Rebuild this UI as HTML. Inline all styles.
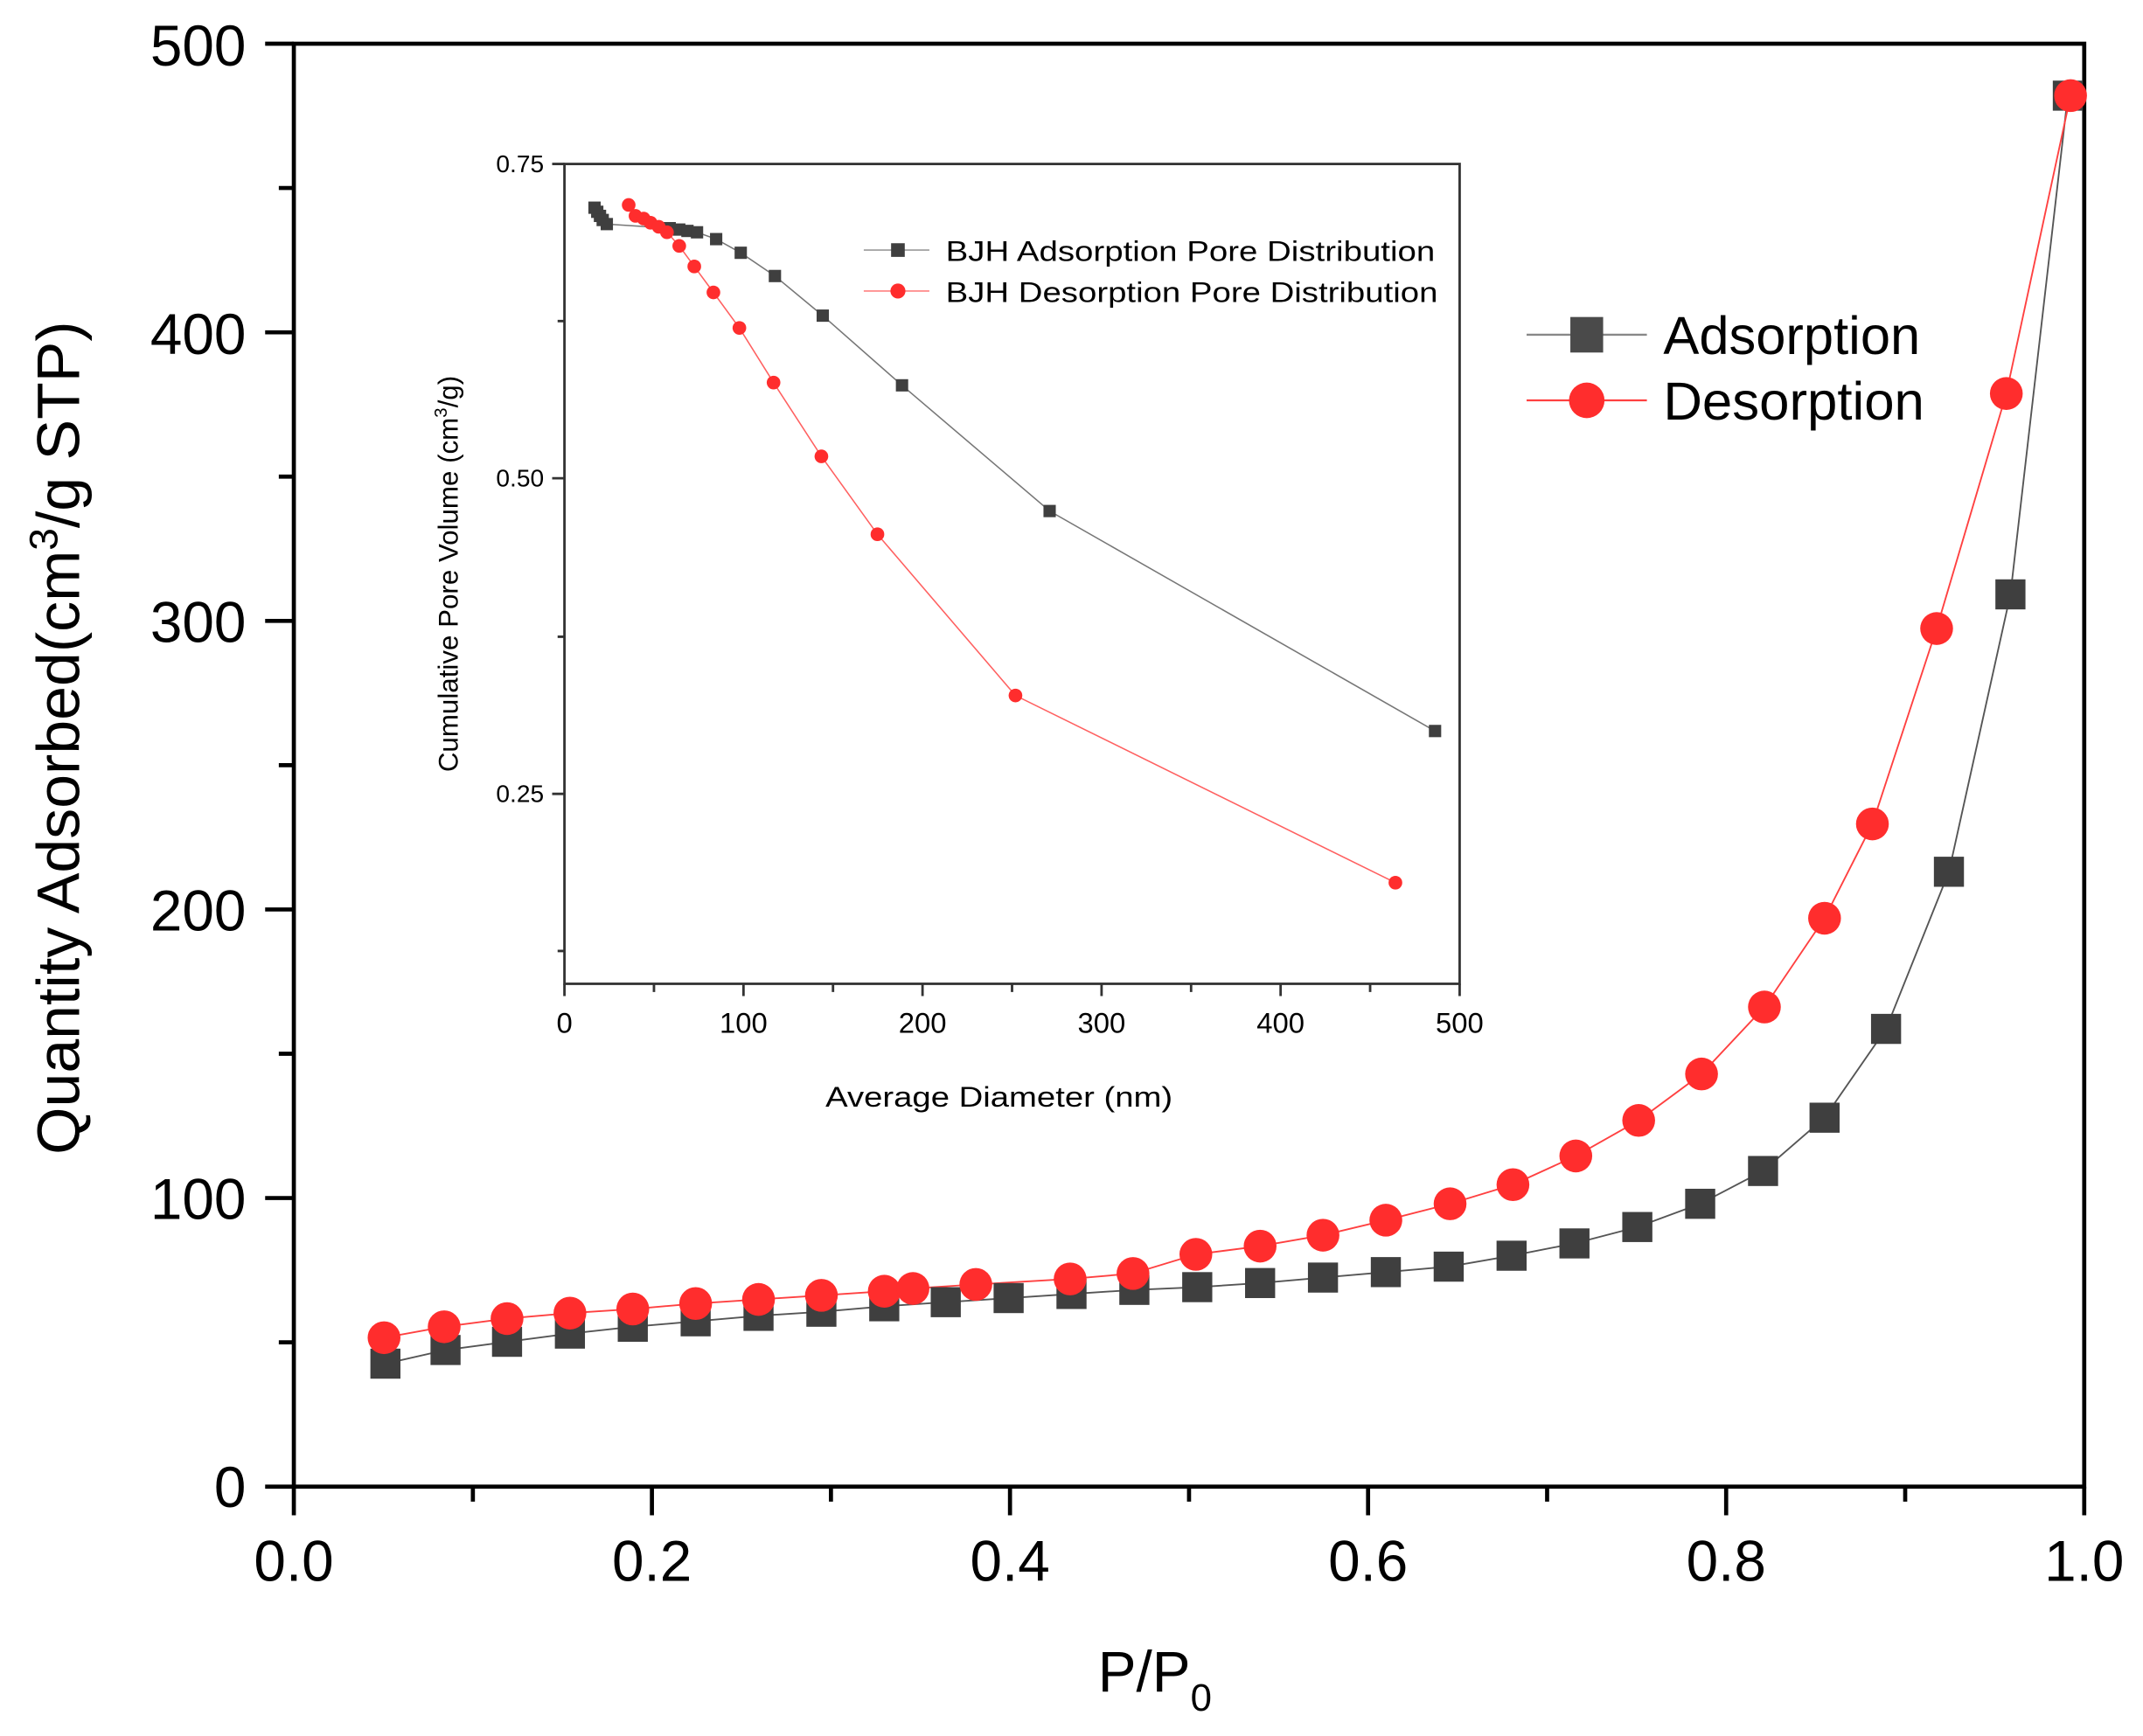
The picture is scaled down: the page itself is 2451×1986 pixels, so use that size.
<!DOCTYPE html>
<html><head><meta charset="utf-8"><style>
html,body{margin:0;padding:0;background:#fff;}
svg{display:block;}
text{font-family:"Liberation Sans",Arial,sans-serif;fill:#000;}
</style></head><body>
<svg width="2451" height="1986" viewBox="0 0 1568 1270.5" preserveAspectRatio="none" xmlns="http://www.w3.org/2000/svg">
<rect x="0" y="0" width="1568" height="1270.5" fill="#fff"/>
<g stroke="#000" stroke-width="3" fill="none">
<rect x="215" y="32" width="1310" height="1056"/>
<path d="M215 1088v21 M477 1088v21 M739 1088v21 M1001 1088v21 M1263 1088v21 M1525 1088v21"/>
<path d="M346 1088v11 M608 1088v11 M870 1088v11 M1132 1088v11 M1394 1088v11"/>
<path d="M215 1088h-21 M215 876.8h-21 M215 665.6h-21 M215 454.4h-21 M215 243.2h-21 M215 32h-21"/>
<path d="M215 982.4h-11 M215 771.2h-11 M215 560h-11 M215 348.8h-11 M215 137.6h-11"/>
</g>
<g font-size="42" text-anchor="end">
<text x="180" y="1103">0</text>
<text x="180" y="892">100</text>
<text x="180" y="681">200</text>
<text x="180" y="470">300</text>
<text x="180" y="259">400</text>
<text x="180" y="48">500</text>
</g>
<g font-size="42" text-anchor="middle">
<text x="215" y="1157">0.0</text>
<text x="477" y="1157">0.2</text>
<text x="739" y="1157">0.4</text>
<text x="1001" y="1157">0.6</text>
<text x="1263" y="1157">0.8</text>
<text x="1525" y="1157">1.0</text>
<text x="845" y="1238">P/P<tspan font-size="28" dy="14">0</tspan></text>
</g>
<text font-size="44" text-anchor="middle" textLength="610" lengthAdjust="spacingAndGlyphs" transform="translate(58,540) rotate(-90)">Quantity Adsorbed(cm<tspan font-size="29" dy="-16">3</tspan><tspan dy="16">/g STP)</tspan></text>

<polyline fill="none" stroke="#555" stroke-width="1.2" points="282,998 326,988 371,982 417,976 463,971 509,967 555,963 601,960 647,956 692,953 738,950 784,947 830,944 876,942 922,939 968,935 1014,931 1060,927 1106,919 1152,910 1198,898 1244,881 1290,857 1335,818 1380,753 1426,638 1471,435 1513,70"/>
<polyline fill="none" stroke="#ff4040" stroke-width="1.2" points="281,979 325,971 371,965 417,961 463,958 509,954 555,951 601,948 647,945 668,943 714,940 783,936 829,932 875,918 922,912 968,904 1014,893 1061,881 1107,867 1153,846 1199,820 1245,786 1291,737 1335,672 1370,603 1417,460 1468,288 1515,70"/>
<g fill="#3f3f3f">
<rect x="271" y="987" width="22" height="22"/><rect x="315" y="977" width="22" height="22"/><rect x="360" y="971" width="22" height="22"/><rect x="406" y="965" width="22" height="22"/><rect x="452" y="960" width="22" height="22"/><rect x="498" y="956" width="22" height="22"/><rect x="544" y="952" width="22" height="22"/><rect x="590" y="949" width="22" height="22"/><rect x="636" y="945" width="22" height="22"/><rect x="681" y="942" width="22" height="22"/><rect x="727" y="939" width="22" height="22"/><rect x="773" y="936" width="22" height="22"/><rect x="819" y="933" width="22" height="22"/><rect x="865" y="931" width="22" height="22"/><rect x="911" y="928" width="22" height="22"/><rect x="957" y="924" width="22" height="22"/><rect x="1003" y="920" width="22" height="22"/><rect x="1049" y="916" width="22" height="22"/><rect x="1095" y="908" width="22" height="22"/><rect x="1141" y="899" width="22" height="22"/><rect x="1187" y="887" width="22" height="22"/><rect x="1233" y="870" width="22" height="22"/><rect x="1279" y="846" width="22" height="22"/><rect x="1324" y="807" width="22" height="22"/><rect x="1369" y="742" width="22" height="22"/><rect x="1415" y="627" width="22" height="22"/><rect x="1460" y="424" width="22" height="22"/><rect x="1502" y="59" width="22" height="22"/>
</g>
<g fill="#ff2d2d">
<circle cx="281" cy="979" r="12"/><circle cx="325" cy="971" r="12"/><circle cx="371" cy="965" r="12"/><circle cx="417" cy="961" r="12"/><circle cx="463" cy="958" r="12"/><circle cx="509" cy="954" r="12"/><circle cx="555" cy="951" r="12"/><circle cx="601" cy="948" r="12"/><circle cx="647" cy="945" r="12"/><circle cx="668" cy="943" r="12"/><circle cx="714" cy="940" r="12"/><circle cx="783" cy="936" r="12"/><circle cx="829" cy="932" r="12"/><circle cx="875" cy="918" r="12"/><circle cx="922" cy="912" r="12"/><circle cx="968" cy="904" r="12"/><circle cx="1014" cy="893" r="12"/><circle cx="1061" cy="881" r="12"/><circle cx="1107" cy="867" r="12"/><circle cx="1153" cy="846" r="12"/><circle cx="1199" cy="820" r="12"/><circle cx="1245" cy="786" r="12"/><circle cx="1291" cy="737" r="12"/><circle cx="1335" cy="672" r="12"/><circle cx="1370" cy="603" r="12"/><circle cx="1417" cy="460" r="12"/><circle cx="1468" cy="288" r="12"/><circle cx="1515" cy="70" r="12"/>
</g>
<line x1="1117" y1="245" x2="1205" y2="245" stroke="#888" stroke-width="1.5"/>
<rect x="1149" y="232" width="24" height="26" fill="#4a4a4a"/>
<line x1="1117" y1="293" x2="1205" y2="293" stroke="#ff4040" stroke-width="1.5"/>
<circle cx="1161" cy="293" r="13" fill="#ff2d2d"/>
<text x="1217" y="259" font-size="39" textLength="188" lengthAdjust="spacingAndGlyphs">Adsorption</text>
<text x="1217" y="307" font-size="39" textLength="191" lengthAdjust="spacingAndGlyphs">Desorption</text>

<g stroke="#333" stroke-width="1.8" fill="none">
<rect x="413" y="120" width="655" height="600"/>
<path d="M413 720v9 M544 720v9 M675 720v9 M806 720v9 M937 720v9 M1068 720v9"/>
<path d="M478.5 720v6 M609.5 720v6 M740.5 720v6 M871.5 720v6 M1002.5 720v6"/>
<path d="M413 120h-9 M413 350h-9 M413 581h-9 M413 235h-5 M413 466h-5 M413 696h-5"/>
</g>
<g font-size="18" fill="#222" text-anchor="end">
<text x="398" y="126">0.75</text>
<text x="398" y="356">0.50</text>
<text x="398" y="587">0.25</text>
</g>
<g font-size="21" text-anchor="middle">
<text x="413" y="756">0</text><text x="544" y="756">100</text><text x="675" y="756">200</text><text x="806" y="756">300</text><text x="937" y="756">400</text><text x="1068" y="756">500</text>
<text x="731" y="810" textLength="254" lengthAdjust="spacingAndGlyphs">Average Diameter (nm)</text>
</g>
<text font-size="20" text-anchor="middle" textLength="290" lengthAdjust="spacingAndGlyphs" transform="translate(335,420) rotate(-90)">Cumulative Pore Volume (cm<tspan font-size="13" dy="-8">3</tspan><tspan dy="8">/g)</tspan></text>

<polyline fill="none" stroke="#777" stroke-width="1" points="435,152 437,155 439,158 441,161 444,164 490,167 497,168 503,169 510,170 524,175 542,185 567,202 602,231 660,282 768,374 1050,535"/>
<polyline fill="none" stroke="#ff6060" stroke-width="1" points="460,150 465,158 471,160 476,163 482,166 488,170 497,180 508,195 522,214 541,240 566,280 601,334 642,391 743,509 1021,646"/>
<g fill="#3f3f3f">
<rect x="430.5" y="147.5" width="9" height="9"/><rect x="432.5" y="150.5" width="9" height="9"/><rect x="434.5" y="153.5" width="9" height="9"/><rect x="436.5" y="156.5" width="9" height="9"/><rect x="439.5" y="159.5" width="9" height="9"/><rect x="485.5" y="162.5" width="9" height="9"/><rect x="492.5" y="163.5" width="9" height="9"/><rect x="498.5" y="164.5" width="9" height="9"/><rect x="505.5" y="165.5" width="9" height="9"/><rect x="519.5" y="170.5" width="9" height="9"/><rect x="537.5" y="180.5" width="9" height="9"/><rect x="562.5" y="197.5" width="9" height="9"/><rect x="597.5" y="226.5" width="9" height="9"/><rect x="655.5" y="277.5" width="9" height="9"/><rect x="763.5" y="369.5" width="9" height="9"/><rect x="1045.5" y="530.5" width="9" height="9"/>
</g>
<g fill="#ff2d2d">
<circle cx="460" cy="150" r="5"/><circle cx="465" cy="158" r="5"/><circle cx="471" cy="160" r="5"/><circle cx="476" cy="163" r="5"/><circle cx="482" cy="166" r="5"/><circle cx="488" cy="170" r="5"/><circle cx="497" cy="180" r="5"/><circle cx="508" cy="195" r="5"/><circle cx="522" cy="214" r="5"/><circle cx="541" cy="240" r="5"/><circle cx="566" cy="280" r="5"/><circle cx="601" cy="334" r="5"/><circle cx="642" cy="391" r="5"/><circle cx="743" cy="509" r="5"/><circle cx="1021" cy="646" r="5"/>
</g>
<line x1="632" y1="183" x2="680" y2="183" stroke="#999" stroke-width="1"/>
<rect x="652" y="178" width="10" height="10" fill="#3f3f3f"/>
<line x1="632" y1="213" x2="680" y2="213" stroke="#ff8080" stroke-width="1"/>
<circle cx="657" cy="213" r="5.5" fill="#ff2d2d"/>
<text x="692" y="191" font-size="21" fill="#222" textLength="358" lengthAdjust="spacingAndGlyphs">BJH Adsorption Pore Distribution</text>
<text x="692" y="221" font-size="21" fill="#222" textLength="360" lengthAdjust="spacingAndGlyphs">BJH Desorption Pore Distribution</text>
</svg>
</body></html>
